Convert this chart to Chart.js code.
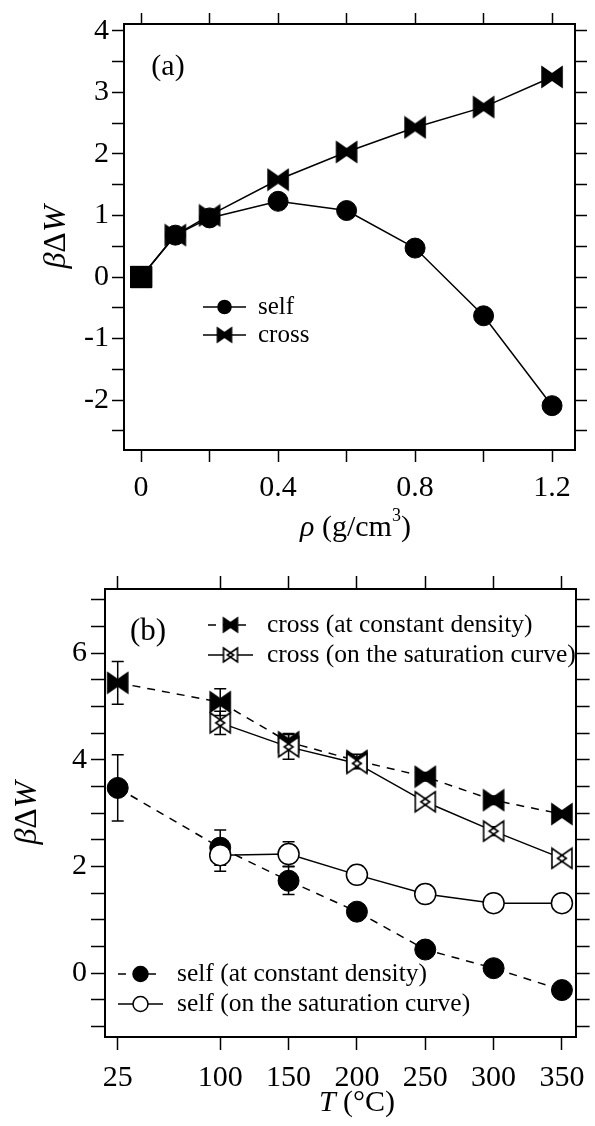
<!DOCTYPE html>
<html>
<head>
<meta charset="utf-8">
<script src="https://cdn.jsdelivr.net/npm/chart.js@4.4.1/dist/chart.umd.min.js"></script>
<style>
  html, body { margin: 0; padding: 0; background: #fff; }
  #wrap { position: relative; width: 595px; height: 1126px; overflow: hidden; }
  canvas { position: absolute; left: 0; }
  #chartA { top: 0; }
  #chartB { top: 565px; }
</style>
</head>
<body>
<div id="wrap">
  <canvas id="chartA" width="595" height="565"></canvas>
  <canvas id="chartB" width="595" height="561"></canvas>
</div>
<script>
// ---- panel (a): beta*dW against density ----
const densities = [0, 0.1, 0.2, 0.4, 0.6, 0.8, 1.0, 1.2];
const selfA = [0, 0.68, 0.96, 1.23, 1.08, 0.47, -0.63, -2.09];
const crossA = [0, 0.68, 1.0, 1.58, 2.03, 2.43, 2.76, 3.25];
const xTicksA = [0, 0.2, 0.4, 0.6, 0.8, 1.0, 1.2];
const xLabelsA = ['0', '', '0.4', '', '0.8', '', '1.2'];
const yTicksA = [-2.5, -2, -1.5, -1, -0.5, 0, 0.5, 1, 1.5, 2, 2.5, 3, 3.5, 4];
const yLabelsA = ['', '-2', '', '-1', '', '0', '', '1', '', '2', '', '3', '', '4'];

// ---- panel (b): beta*dW against temperature ----
const temps = [25, 100, 150, 200, 250, 300, 350];
const crossConst = [5.44, 5.08, 4.33, 3.98, 3.68, 3.24, 2.98];
const crossConstErr = [0.4, 0.25, 0.16, 0.12, 0.08, 0.08, 0.06];
const crossSat = [null, 4.69, 4.24, 3.93, 3.21, 2.66, 2.15];
const crossSatErr = [null, 0.22, 0.23, 0.1, 0.06, 0.08, 0.06];
const selfConst = [3.47, 2.35, 1.73, 1.15, 0.44, 0.09, -0.32];
const selfConstErr = [0.62, 0.33, 0.26, 0.15, 0.05, 0.05, 0.05];
const selfSat = [null, 2.21, 2.23, 1.84, 1.48, 1.31, 1.31];
const selfSatErr = [null, 0.3, 0.23, 0.08, 0.05, 0.05, 0.05];
const xLabelsB = ['25', '100', '150', '200', '250', '300', '350'];
const yTicksB = [-1, -0.5, 0, 0.5, 1, 1.5, 2, 2.5, 3, 3.5, 4, 4.5, 5, 5.5, 6, 6.5, 7];
const yLabelsB = ['', '', '0', '', '', '', '2', '', '', '', '4', '', '', '', '6', '', ''];

const FONT = 'Liberation Serif';
const yTitle = [{ text: 'β', italic: true }, { text: 'Δ' }, { text: 'W', italic: true }];
const xTitleA = [{ text: 'ρ', italic: true }, { text: ' (g/cm' }, { text: '3', sup: true }, { text: ')' }];
const xTitleB = [{ text: 'T', italic: true }, { text: ' (°C)' }];

// two overlapping triangles, bases on the left and right edges
function bowtie(size, filled) {
    const c = document.createElement('canvas');
    c.width = c.height = size + 4;
    const g = c.getContext('2d');
    const o = 2, s = size, reach = 0.72 * s;
    g.lineWidth = 1.6;
    g.strokeStyle = '#000';
    g.fillStyle = filled ? '#000' : '#fff';
    const left = () => { g.beginPath(); g.moveTo(o, o); g.lineTo(o + reach, o + s / 2); g.lineTo(o, o + s); g.closePath(); };
    const right = () => { g.beginPath(); g.moveTo(o + s, o); g.lineTo(o + s - reach, o + s / 2); g.lineTo(o + s, o + s); g.closePath(); };
    left(); g.fill();
    right(); g.fill();
    left(); g.stroke();
    right(); g.stroke();
    return c;
}
const tieFilled = bowtie(20, true);
const tieOpen = bowtie(20, false);
const tieFilledSmall = bowtie(14, true);
const tieOpenSmall = bowtie(14, false);

function pts(xs, ys) {
    return xs.map((x, i) => ({ x: x, y: ys[i] }));
}

function drawRich(ctx, parts, cx, cy, size, rotate) {
    ctx.save();
    ctx.translate(cx, cy);
    if (rotate) ctx.rotate(-Math.PI / 2);
    ctx.textBaseline = 'middle';
    ctx.fillStyle = '#000';
    const fontOf = p => (p.italic ? 'italic ' : '') + (p.sup ? Math.round(size * 0.6) : size) + 'px "' + FONT + '"';
    let total = 0;
    parts.forEach(p => { ctx.font = fontOf(p); total += ctx.measureText(p.text).width; });
    let x = -total / 2;
    parts.forEach(p => {
        ctx.font = fontOf(p);
        ctx.fillText(p.text, x, p.sup ? -size * 0.38 : 0);
        x += ctx.measureText(p.text).width;
    });
    ctx.restore();
}

function drawLegend(chart, spec) {
    const ctx = chart.ctx;
    spec.items.forEach((di, row) => {
        const ds = chart.data.datasets[di];
        const y = spec.y + row * spec.rowGap;
        ctx.save();
        ctx.strokeStyle = '#000';
        ctx.lineWidth = 1.5;
        ctx.setLineDash(ds.borderDash || []);
        ctx.beginPath();
        ctx.moveTo(spec.x0, y);
        ctx.lineTo(spec.x1, y);
        ctx.stroke();
        ctx.setLineDash([]);
        const mx = (spec.x0 + spec.x1) / 2;
        const m = ds.legendMarker;
        if (typeof m.style === 'object') {
            ctx.drawImage(m.style, mx - m.style.width / 2, y - m.style.height / 2);
        } else {
            ctx.fillStyle = m.fill;
            Chart.helpers.drawPoint(ctx, { pointStyle: m.style, radius: m.radius, borderWidth: 1.5, rotation: 0 }, mx, y);
        }
        ctx.fillStyle = '#000';
        ctx.font = spec.size + 'px "' + FONT + '"';
        ctx.textBaseline = 'middle';
        ctx.fillText(ds.label, spec.textX, y);
        ctx.restore();
    });
}

const errorBars = {
    id: 'errorBars',
    beforeDatasetsDraw(chart) {
        const ctx = chart.ctx;
        const yScale = chart.scales.y;
        chart.data.datasets.forEach((ds, di) => {
            if (!ds.errors) return;
            const meta = chart.getDatasetMeta(di);
            ctx.save();
            ctx.strokeStyle = '#000';
            ctx.lineWidth = 1.5;
            meta.data.forEach((pt, i) => {
                const e = ds.errors[i];
                const v = ds.data[i].y;
                if (e == null || v == null) return;
                const top = yScale.getPixelForValue(v + e);
                const bot = yScale.getPixelForValue(v - e);
                ctx.beginPath();
                ctx.moveTo(pt.x, top); ctx.lineTo(pt.x, bot);
                ctx.moveTo(pt.x - 6, top); ctx.lineTo(pt.x + 6, top);
                ctx.moveTo(pt.x - 6, bot); ctx.lineTo(pt.x + 6, bot);
                ctx.stroke();
            });
            ctx.restore();
        });
    }
};

function axis(position, min, max, ticks, labels, size, tickLen, pad, showLabels) {
    return {
        type: 'linear',
        position: position,
        min: min,
        max: max,
        afterBuildTicks: (s) => { s.ticks = ticks.map(v => ({ value: v })); },
        afterFit: (s) => {
            if (position === 'left' || position === 'right') s.width = size;
            else s.height = size;
        },
        ticks: {
            display: showLabels,
            autoSkip: false,
            maxRotation: 0,
            padding: pad,
            color: '#000',
            font: { family: FONT, size: 30 },
            callback: (v, i) => labels[i]
        },
        grid: {
            display: true,
            drawOnChartArea: false,
            drawTicks: true,
            tickLength: tickLen,
            tickWidth: 1.5,
            tickColor: '#000'
        },
        border: { display: true, color: '#000', width: 2 }
    };
}

// ---------- chart (a) ----------
const squareFirst = densities.map((d, i) => i === 0 ? 'rect' : null);
new Chart(document.getElementById('chartA'), {
    type: 'line',
    data: {
        datasets: [
            {
                label: 'self',
                data: pts(densities, selfA),
                borderColor: '#000',
                borderWidth: 1.5,
                pointStyle: squareFirst.map(s => s || 'circle'),
                pointRadius: squareFirst.map(s => s ? 15 : 10),
                pointBackgroundColor: '#000',
                pointBorderColor: '#000',
                pointBorderWidth: 1,
                legendMarker: { style: 'circle', radius: 6.5, fill: '#000' },
                order: 1
            },
            {
                label: 'cross',
                data: pts(densities, crossA),
                borderColor: '#000',
                borderWidth: 1.5,
                pointStyle: squareFirst.map(s => s || tieFilled),
                pointRadius: squareFirst.map(s => s ? 15 : 10),
                pointBackgroundColor: '#000',
                pointBorderColor: '#000',
                pointBorderWidth: 1,
                legendMarker: { style: tieFilledSmall },
                order: 0
            }
        ]
    },
    options: {
        responsive: false,
        animation: false,
        layout: { padding: 0 },
        plugins: { legend: { display: false }, tooltip: { enabled: false } },
        scales: {
            x: axis('bottom', -0.05, 1.267, xTicksA, xLabelsA, 115, 12, 8, true),
            x2: axis('top', -0.05, 1.267, xTicksA, xLabelsA, 24, 11, 0, false),
            y: axis('left', -2.81, 4.11, yTicksA, yLabelsA, 124, 12, 3, true),
            y2: axis('right', -2.81, 4.11, yTicksA, yLabelsA, 20, 12, 0, false)
        }
    },
    plugins: [{
        id: 'decorA',
        afterDraw(chart) {
            const a = chart.chartArea;
            drawRich(chart.ctx, xTitleA, (a.left + a.right) / 2 + 6, 528, 30, false);
            drawRich(chart.ctx, yTitle, 57, (a.top + a.bottom) / 2, 32, true);
            drawRich(chart.ctx, [{ text: '(a)' }], 168, 67, 30, false);
            drawLegend(chart, { items: [0, 1], x0: 203, x1: 246, textX: 258, y: 307, rowGap: 28, size: 25 });
        }
    }]
});

// ---------- chart (b) ----------
new Chart(document.getElementById('chartB'), {
    type: 'line',
    data: {
        datasets: [
            {
                label: 'cross (at constant density)',
                data: pts(temps, crossConst),
                errors: crossConstErr,
                borderColor: '#000',
                borderWidth: 1.5,
                borderDash: [8, 7],
                pointStyle: tieFilled,
                pointRadius: 10,
                legendMarker: { style: tieFilledSmall },
                order: 3
            },
            {
                label: 'cross (on the saturation curve)',
                data: pts(temps, crossSat),
                errors: crossSatErr,
                borderColor: '#000',
                borderWidth: 1.5,
                pointStyle: tieOpen,
                pointRadius: 10,
                legendMarker: { style: tieOpenSmall },
                order: 1
            },
            {
                label: 'self (at constant density)',
                data: pts(temps, selfConst),
                errors: selfConstErr,
                borderColor: '#000',
                borderWidth: 1.5,
                borderDash: [8, 7],
                pointStyle: 'circle',
                pointRadius: 10.5,
                pointBackgroundColor: '#000',
                pointBorderColor: '#000',
                pointBorderWidth: 1,
                legendMarker: { style: 'circle', radius: 7.5, fill: '#000' },
                order: 2
            },
            {
                label: 'self (on the saturation curve)',
                data: pts(temps, selfSat),
                errors: selfSatErr,
                borderColor: '#000',
                borderWidth: 1.5,
                pointStyle: 'circle',
                pointRadius: 10.5,
                pointBackgroundColor: '#fff',
                pointBorderColor: '#000',
                pointBorderWidth: 1.5,
                legendMarker: { style: 'circle', radius: 7.5, fill: '#fff' },
                order: 0
            }
        ]
    },
    options: {
        responsive: false,
        animation: false,
        layout: { padding: 0 },
        plugins: { legend: { display: false }, tooltip: { enabled: false } },
        scales: {
            x: axis('bottom', 15.7, 360, temps, xLabelsB, 89, 13, 10, true),
            x2: axis('top', 15.7, 360, temps, xLabelsB, 24, 13, 0, false),
            y: axis('left', -1.2, 7.2, yTicksB, yLabelsB, 105, 14, 4, true),
            y2: axis('right', -1.2, 7.2, yTicksB, yLabelsB, 11, 14, 0, false)
        }
    },
    plugins: [errorBars, {
        id: 'decorB',
        afterDraw(chart) {
            const a = chart.chartArea;
            drawRich(chart.ctx, xTitleB, 357, 538, 30, false);
            drawRich(chart.ctx, yTitle, 28, (a.top + a.bottom) / 2, 32, true);
            drawRich(chart.ctx, [{ text: '(b)' }], 148, 67, 31, false);
            drawLegend(chart, { items: [0, 1], x0: 208, x1: 253, textX: 267, y: 60, rowGap: 30, size: 25.5 });
            drawLegend(chart, { items: [2, 3], x0: 118, x1: 163, textX: 177, y: 409, rowGap: 30, size: 25.5 });
        }
    }]
});
</script>
</body>
</html>
